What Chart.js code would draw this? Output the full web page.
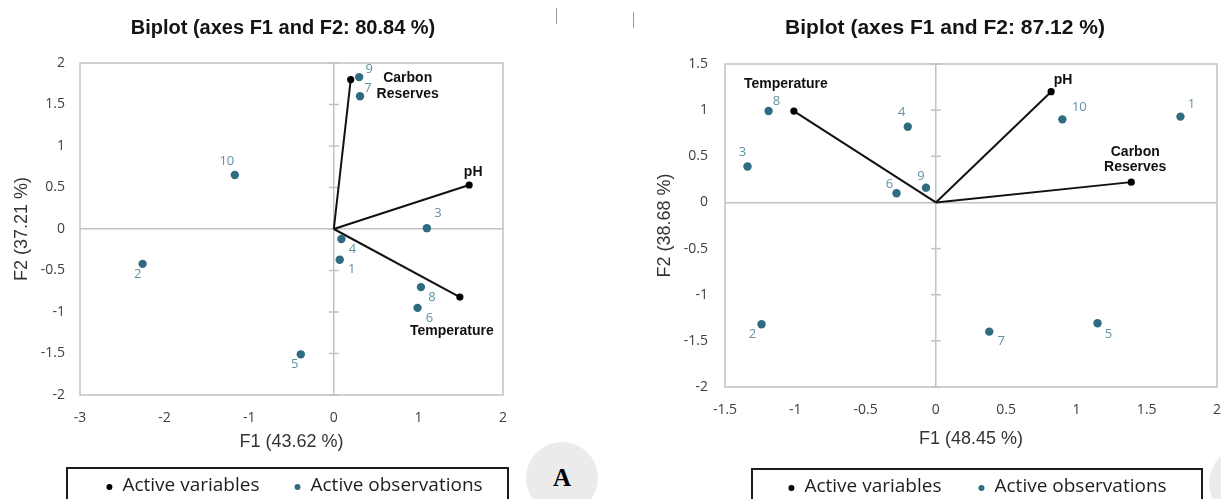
<!DOCTYPE html>
<html><head><meta charset="utf-8">
<script src="https://cdn.jsdelivr.net/npm/chart.js@4.4.1/dist/chart.umd.min.js"></script>
<style>
html,body{margin:0;padding:0;background:#fff;}
#wrap{position:relative;width:1221px;height:499px;overflow:hidden;background:#fff;}
canvas{position:absolute;top:0;}
#cL{left:0;}
#cR{left:640px;}
.badge{position:absolute;width:72px;height:72px;border-radius:50%;background:#ebebeb;font-family:'Liberation Serif',serif;font-weight:bold;font-size:25px;color:#000;display:flex;align-items:center;justify-content:center;}
.mark{position:absolute;width:1px;background:#9a9a9a;}
</style></head><body>
<div id="wrap">
<canvas id="cL" width="566" height="499"></canvas>
<canvas id="cR" width="610" height="499"></canvas>
<div class="badge" style="left:526px;top:442px;">A</div>
<div class="badge" style="left:1209px;top:447px;"></div>
<div class="mark" style="left:556px;top:8px;height:16px;"></div>
<div class="mark" style="left:633px;top:12px;height:16px;"></div>
</div>
<script>
// ---------- DATA : left biplot ----------
const titleL = 'Biplot (axes F1 and F2: 80.84 %)';
const xTitleL = 'F1 (43.62 %)';
const yTitleL = 'F2 (37.21 %)';
const obsIdsL = ['1','2','3','4','5','6','7','8','9','10'];
const obsF1L = [0.07, -2.26, 1.10, 0.09, -0.39, 0.99, 0.31, 1.03, 0.30, -1.17];
const obsF2L = [-0.37, -0.42, 0.01, -0.12, -1.51, -0.95, 1.60, -0.70, 1.83, 0.65];
const varNamesL = ['Carbon Reserves', 'pH', 'Temperature'];
const varF1L = [0.20, 1.60, 1.49];
const varF2L = [1.80, 0.53, -0.82];
const xTicksL = [-3, -2, -1, 0, 1, 2];
const yTicksL = [-2, -1.5, -1, -0.5, 0, 0.5, 1, 1.5, 2];

// ---------- DATA : right biplot ----------
const titleR = 'Biplot (axes F1 and F2: 87.12 %)';
const xTitleR = 'F1 (48.45 %)';
const yTitleR = 'F2 (38.68 %)';
const obsIdsR = ['1','2','3','4','5','6','7','8','9','10'];
const obsF1R = [1.74, -1.24, -1.34, -0.20, 1.15, -0.28, 0.38, -1.19, -0.07, 0.90];
const obsF2R = [0.93, -1.32, 0.39, 0.82, -1.31, 0.10, -1.40, 0.99, 0.16, 0.90];
const varNamesR = ['Temperature', 'pH', 'Carbon Reserves'];
const varF1R = [-1.01, 0.82, 1.39];
const varF2R = [0.99, 1.20, 0.22];
const xTicksR = [-1.5, -1, -0.5, 0, 0.5, 1, 1.5, 2];
const yTicksR = [-2, -1.5, -1, -0.5, 0, 0.5, 1, 1.5];

const legendLabels = ['Active variables', 'Active observations'];

// ---------- STYLE (label placement offsets in px, colours) ----------
const obsLabelOffL = [[12,10],[-5,10],[11,-15],[11,10],[-6,10],[12,10],[8,-8],[11,10],[10,-8],[-8,-14]];
const varLabelOffL = [[57,-1],[4,-13],[-8,34]];
const varWrapL = [true, false, false];
const obsLabelOffR = [[11,-12],[-9,10],[-5,-14],[-6,-14],[11,11],[-7,-9],[12,10],[8,-10],[-5,-11],[17,-12]];
const varLabelOffR = [[-8,-27],[12,-12],[4,-30]];
const varWrapR = [false, false, true];

const TEAL = '#2f6c82';
const TEAL_LABEL = '#5f93a3';
const GRAY = '#c2c2c2';
const TICK_COLOR = '#404040';

const framePlugin = {
  id: 'frame',
  beforeDatasetsDraw(chart, args, o) {
    const {ctx, chartArea: ca, scales} = chart;
    ctx.save();
    ctx.strokeStyle = o.color; ctx.lineWidth = o.width;
    ctx.strokeRect(ca.left, ca.top, ca.right - ca.left, ca.bottom - ca.top);
    const x0 = scales.x.getPixelForValue(0);
    scales.y.ticks.forEach(t => {
      const py = scales.y.getPixelForValue(t.value);
      ctx.beginPath(); ctx.moveTo(x0 - 5, py); ctx.lineTo(x0 + 5, py); ctx.stroke();
    });
    ctx.restore();
  }
};

const labelPlugin = {
  id: 'pointLabels',
  afterDatasetsDraw(chart, args, o) {
    const ctx = chart.ctx;
    ctx.save();
    ctx.textAlign = 'center'; ctx.textBaseline = 'middle';
    chart.data.datasets.forEach((ds, di) => {
      const meta = chart.getDatasetMeta(di);
      if (ds.role === 'obs') {
        ctx.font = '13px "Open Sans"'; ctx.fillStyle = TEAL_LABEL;
        meta.data.forEach((el, i) => {
          const off = o.obsOff[i];
          ctx.fillText(ds.ids[i], el.x + off[0], el.y + off[1]);
        });
      } else if (ds.role === 'var') {
        const el = meta.data[1];
        const off = o.varOff[ds.vi];
        const lines = o.wrap[ds.vi] ? ds.label.split(' ') : [ds.label];
        ctx.font = 'bold 14px "Liberation Sans"'; ctx.fillStyle = '#111';
        lines.forEach((ln, j) => ctx.fillText(ln, el.x + off[0], el.y + off[1] + j * o.lineGap));
      }
    });
    ctx.restore();
  }
};

const legendPlugin = {
  id: 'boxLegend',
  afterDraw(chart, args, o) {
    const ctx = chart.ctx, ca = chart.chartArea;
    const cx = (ca.left + ca.right) / 2;
    ctx.save();
    ctx.lineWidth = 2; ctx.strokeStyle = '#1c1c1c';
    ctx.strokeRect(cx + o.boxDx - o.halfW, o.top, 2 * o.halfW, chart.height + 20);
    ctx.font = o.size + 'px "Open Sans"';
    const w = o.labels.map(t => ctx.measureText(t).width);
    const r = 3, gapDot = 13;
    const total = r + gapDot + w[0] + o.gapItem + gapDot + w[1];
    let p = cx + o.dx - total / 2;
    ctx.textBaseline = 'middle'; ctx.textAlign = 'left';
    o.labels.forEach((t, i) => {
      const dotX = i === 0 ? p + r : p + o.gapItem;
      ctx.fillStyle = o.colors[i];
      ctx.beginPath(); ctx.arc(dotX, o.y + 1, r, 0, Math.PI * 2); ctx.fill();
      ctx.fillStyle = '#1e1e1e';
      ctx.fillText(t, dotX + gapDot, o.y);
      p = dotX + gapDot + w[i];
    });
    ctx.restore();
  }
};

function makeBiplot(id, d, L) {
  const datasets = [{
    role: 'obs', label: legendLabels[1], ids: d.obsIds, yAxisID: 'y',
    data: d.obsF1.map((x, i) => ({x: x, y: d.obsF2[i]})),
    pointRadius: 4.2, pointBackgroundColor: TEAL, pointBorderWidth: 0, showLine: false
  }];
  d.varNames.forEach((n, i) => datasets.push({
    role: 'var', vi: i, label: n, yAxisID: 'y',
    data: [{x: 0, y: 0}, {x: d.varF1[i], y: d.varF2[i]}],
    showLine: true, borderColor: '#111', borderWidth: 2,
    pointRadius: [0, 3.6], pointBackgroundColor: '#000', pointBorderWidth: 0
  }));
  const zeroGrid = c => (c.tick && c.tick.value === 0) ? GRAY : 'rgba(0,0,0,0)';
  return new Chart(document.getElementById(id), {
    type: 'scatter',
    data: {datasets},
    plugins: [framePlugin, labelPlugin, legendPlugin],
    options: {
      responsive: false, animation: false, events: [],
      layout: {padding: {left: 0, right: 0, top: 0, bottom: L.padBottom}},
      scales: {
        x: {
          type: 'linear', min: d.xTicks[0], max: d.xTicks[d.xTicks.length - 1],
          afterBuildTicks: s => { s.ticks = d.xTicks.map(v => ({value: v})); },
          afterFit: s => { s.height = L.xH; },
          grid: {drawTicks: false, color: zeroGrid, lineWidth: 1.5},
          border: {display: false},
          ticks: {padding: 15, color: TICK_COLOR, font: {family: 'Open Sans', size: 14}, callback: v => String(v), maxRotation: 0, autoSkip: false},
          title: {display: true, text: d.xTitle, color: '#333', font: {family: 'Liberation Sans', size: 18}, padding: {top: 0, bottom: L.xTitlePad}}
        },
        y: {
          type: 'linear', position: 'left', min: d.yTicks[0], max: d.yTicks[d.yTicks.length - 1],
          afterBuildTicks: s => { s.ticks = d.yTicks.map(v => ({value: v})); },
          afterFit: s => { s.width = L.yW; },
          grid: {drawTicks: false, color: zeroGrid, lineWidth: 1.5},
          border: {display: false},
          ticks: {padding: L.yTickPad, color: TICK_COLOR, font: {family: 'Open Sans', size: 14}, callback: v => String(v), autoSkip: false},
          title: {display: true, text: d.yTitle, color: '#333', font: {family: 'Liberation Sans', size: 18}, padding: {top: L.yTitlePad, bottom: 0}}
        },
        yR: {
          type: 'linear', position: 'right', display: true,
          afterFit: s => { s.width = L.rightW; },
          grid: {display: false}, ticks: {display: false}, border: {display: false}
        }
      },
      plugins: {
        legend: {display: false},
        tooltip: {enabled: false},
        title: {display: true, text: d.title, color: '#141414',
          font: {family: 'Liberation Sans', size: L.titleSize, weight: 'bold'},
          padding: {top: L.titleTop, bottom: L.titleBottom}},
        frame: {color: GRAY, width: 1.5},
        pointLabels: {obsOff: L.obsOff, varOff: L.varOff, wrap: L.wrap, lineGap: L.lineGap},
        boxLegend: {labels: legendLabels, colors: ['#000', TEAL], size: 19, dx: L.legDx, boxDx: L.boxDx,
          halfW: L.halfW, top: L.legTop, y: L.legY, gapItem: L.gapItem}
      }
    }
  });
}

function build() {
  makeBiplot('cL', {
    title: titleL, xTitle: xTitleL, yTitle: yTitleL, obsIds: obsIdsL, obsF1: obsF1L, obsF2: obsF2L,
    varNames: varNamesL, varF1: varF1L, varF2: varF2L, xTicks: xTicksL, yTicks: yTicksL
  }, {
    padBottom: 44, xH: 60, xTitlePad: 2, yW: 80, yTickPad: 15, yTitlePad: 11, rightW: 63,
    titleSize: 20, titleTop: 16, titleBottom: 23,
    obsOff: obsLabelOffL, varOff: varLabelOffL, wrap: varWrapL, lineGap: 16,
    legDx: 3, boxDx: -4, halfW: 220.5, legTop: 468, legY: 486, gapItem: 38
  });
  makeBiplot('cR', {
    title: titleR, xTitle: xTitleR, yTitle: yTitleR, obsIds: obsIdsR, obsF1: obsF1R, obsF2: obsF2R,
    varNames: varNamesR, varF1: varF1R, varF2: varF2R, xTicks: xTicksR, yTicks: yTicksR
  }, {
    padBottom: 49, xH: 63, xTitlePad: 0, yW: 85, yTickPad: 17, yTitlePad: 14, rightW: 33,
    titleSize: 21, titleTop: 15.4, titleBottom: 23.4,
    obsOff: obsLabelOffR, varOff: varLabelOffR, wrap: varWrapR, lineGap: 15,
    legDx: 6.5, boxDx: 6, halfW: 225, legTop: 469, legY: 487, gapItem: 40
  });
}

if (document.fonts && document.fonts.load) {
  Promise.all([
    document.fonts.load('14px "Open Sans"'),
    document.fonts.load('bold 20px "Liberation Sans"'),
    document.fonts.load('18px "Liberation Sans"')
  ]).then(build, build);
} else { build(); }
</script>
</body></html>
